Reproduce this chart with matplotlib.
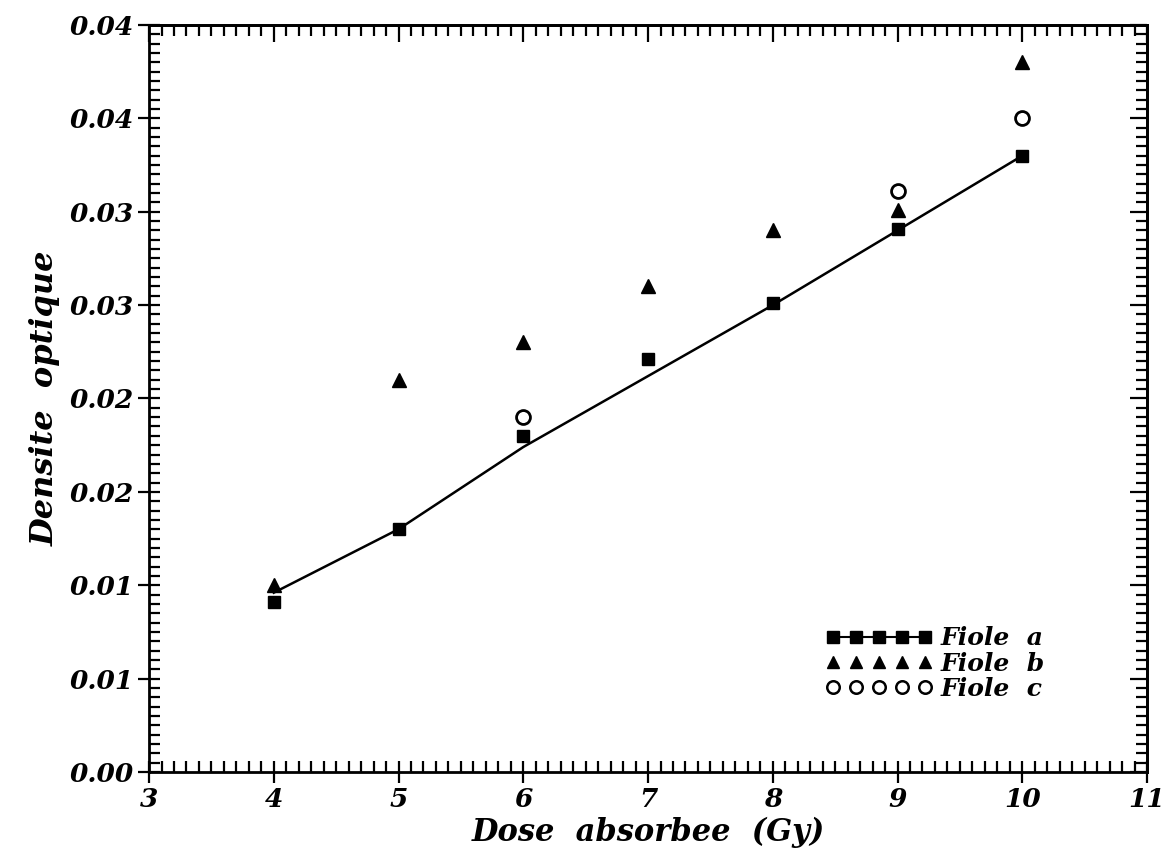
import numpy as np
import matplotlib
matplotlib.use('Agg')
import matplotlib.pyplot as plt
from matplotlib.ticker import MultipleLocator

# DATA
dose = [4, 5, 6, 7, 8, 9, 10]
fiole_a = [0.0091, 0.0130, 0.0180, 0.0221, 0.0251, 0.0291, 0.0330]
fiole_b = [0.0100, 0.0210, 0.0230, 0.0260, 0.0290, 0.0301, 0.0380]
dose_c = [6, 9, 10]
fiole_c = [0.0190, 0.0311, 0.0350]
fit_line = [0.0096, 0.0130, 0.0174, 0.0212, 0.0250, 0.0290, 0.0330]

yticks = [0.0, 0.005, 0.01, 0.015, 0.02, 0.025, 0.03, 0.035, 0.04]
ytick_labels = ['0.00', '0.01', '0.01', '0.02', '0.02', '0.03', '0.03', '0.04', '0.04']
xticks = [3, 4, 5, 6, 7, 8, 9, 10, 11]

# STYLE
font = dict(family='DejaVu Serif', style='italic', weight='bold')

fig = plt.figure(figsize=(11.67, 8.5), dpi=100)
ax = fig.add_axes([0.1277, 0.0918, 0.8552, 0.8788])

ax.plot(dose, fit_line, color='black', lw=1.8, zorder=2)
ax.plot(dose, fiole_a, linestyle='none', marker='s', ms=9, color='black', zorder=3)
ax.plot(dose, fiole_b, linestyle='none', marker='^', ms=10, color='black', zorder=3)
ax.plot(dose_c, fiole_c, linestyle='none', marker='o', ms=10, mfc='white',
        mec='black', mew=2, zorder=3)

ax.set_xlim(3, 11)
ax.set_ylim(0, 0.04)
ax.set_xticks(xticks)
ax.set_yticks(yticks)
ax.set_yticklabels(ytick_labels)
ax.xaxis.set_minor_locator(MultipleLocator(0.1))
ax.yaxis.set_minor_locator(MultipleLocator(0.0005))

for side in ax.spines.values():
    side.set_linewidth(2)

ax.tick_params(which='both', width=1.6)
ax.tick_params(which='major', direction='inout', length=16, pad=3)
ax.tick_params(which='minor', direction='in', length=8)

# top and right: ticks inside only
top = ax.secondary_xaxis('top')
top.set_xticks(xticks)
top.xaxis.set_minor_locator(MultipleLocator(0.1))
top.tick_params(which='both', direction='in', width=1.6, labeltop=False)
top.tick_params(which='major', length=12)
top.tick_params(which='minor', length=8)
right = ax.secondary_yaxis('right')
right.set_yticks(yticks)
right.yaxis.set_minor_locator(MultipleLocator(0.0005))
right.tick_params(which='both', direction='in', width=1.6, labelright=False)
right.tick_params(which='major', length=12)
right.tick_params(which='minor', length=8)
for sec in (top, right):
    for side in sec.spines.values():
        side.set_linewidth(2)

for lab in ax.get_xticklabels() + ax.get_yticklabels():
    lab.set_fontfamily('DejaVu Serif')
    lab.set_fontstyle('italic')
    lab.set_fontweight('bold')
    lab.set_fontsize(19)

ax.set_xlabel('Dose  absorbee  (Gy)', fontsize=22, labelpad=3, **font)
ax.set_ylabel('Densite  optique', fontsize=23, labelpad=6, **font)

# legend: 5 markers per row
la, = ax.plot([], [], color='black', lw=1.5, marker='s', ms=8)
lb, = ax.plot([], [], linestyle='none', marker='^', ms=9, color='black')
lc, = ax.plot([], [], linestyle='none', marker='o', ms=9, mfc='white', mec='black', mew=1.8)
ax.legend([la, lb, lc], ['Fiole  a', 'Fiole  b', 'Fiole  c'], numpoints=5,
          handlelength=4.3, handletextpad=0.3, labelspacing=0.05, frameon=False,
          loc='upper left', bbox_to_anchor=(0.655, 0.225),
          prop=dict(family='DejaVu Serif', style='italic', weight='bold', size=18))

fig.savefig('out.png', dpi=100)
